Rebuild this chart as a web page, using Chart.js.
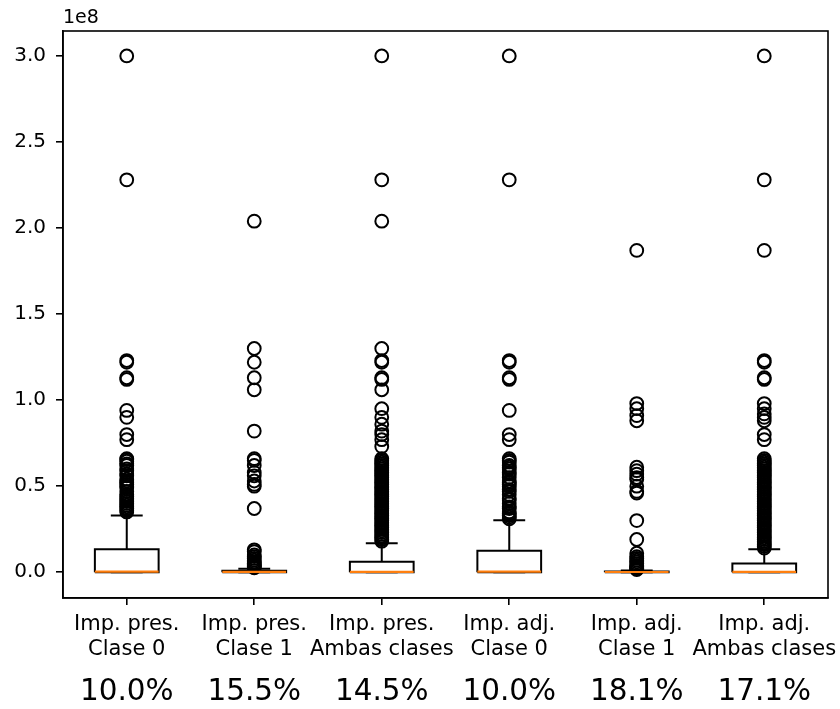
<!DOCTYPE html>
<html>
<head>
<meta charset="utf-8">
<script src="https://cdn.jsdelivr.net/npm/chart.js@4"></script>
<style>
  html, body { margin: 0; padding: 0; background: #fff; }
  #wrap { width: 840px; height: 709px; }
</style>
</head>
<body>
<div id="wrap"><canvas id="c" width="840" height="709"></canvas></div>
<script>
// ---- data (values in units of 1e8) ----
const categories = [
  ["Imp. pres.", "Clase 0"],
  ["Imp. pres.", "Clase 1"],
  ["Imp. pres.", "Ambas clases"],
  ["Imp. adj.", "Clase 0"],
  ["Imp. adj.", "Clase 1"],
  ["Imp. adj.", "Ambas clases"]
];
const percentLabels = ["10.0%", "15.5%", "14.5%", "10.0%", "18.1%", "17.1%"];
const scaleLabel = "1e8";
const yTickValues = [0, 0.5, 1.0, 1.5, 2.0, 2.5, 3.0];

const q1 = [0, 0, 0, 0, 0, 0];
const medians = [0.003, 0.002, 0.002, 0.003, 0.001, 0.002];
const q3 = [0.133, 0.008, 0.060, 0.124, 0.004, 0.050];
const whiskerLow = [0, 0, 0, 0, 0, 0];
const whiskerHigh = [0.330, 0.020, 0.168, 0.302, 0.010, 0.133];

const outliers1 = [3.0, 2.28, 1.23, 1.22, 1.13, 1.12, 0.94, 0.90, 0.80, 0.77, 0.66, 0.655, 0.645, 0.63, 0.62, 0.60, 0.59, 0.57, 0.56, 0.54, 0.53, 0.52, 0.51, 0.50, 0.49, 0.47, 0.45, 0.44, 0.43, 0.42, 0.41, 0.40, 0.39, 0.38, 0.37, 0.36, 0.35];
const outliers2 = [2.04, 1.30, 1.22, 1.13, 1.06, 0.82, 0.66, 0.65, 0.62, 0.58, 0.56, 0.53, 0.51, 0.50, 0.37, 0.13, 0.12, 0.10, 0.09, 0.08, 0.07, 0.06, 0.05, 0.045, 0.04, 0.035, 0.03, 0.025];
const outliers3 = [3.0, 2.28, 2.04, 1.30, 1.23, 1.22, 1.13, 1.12, 1.06, 0.95, 0.90, 0.86, 0.82, 0.80, 0.77, 0.73, 0.66, 0.65, 0.64, 0.63, 0.62, 0.61, 0.60, 0.59, 0.58, 0.57, 0.56, 0.55, 0.54, 0.53, 0.52, 0.51, 0.50, 0.49, 0.48, 0.47, 0.46, 0.45, 0.44, 0.43, 0.42, 0.41, 0.40, 0.39, 0.38, 0.37, 0.36, 0.35, 0.34, 0.33, 0.32, 0.31, 0.30, 0.29, 0.28, 0.27, 0.26, 0.25, 0.24, 0.23, 0.22, 0.21, 0.20, 0.19, 0.18];
const outliers4 = [3.0, 2.28, 1.23, 1.22, 1.13, 1.12, 0.94, 0.80, 0.77, 0.66, 0.65, 0.64, 0.62, 0.61, 0.60, 0.58, 0.57, 0.55, 0.53, 0.52, 0.51, 0.50, 0.48, 0.47, 0.45, 0.43, 0.42, 0.40, 0.38, 0.37, 0.35, 0.34, 0.33, 0.32, 0.31];
const outliers5 = [1.87, 0.98, 0.95, 0.91, 0.88, 0.61, 0.59, 0.57, 0.55, 0.54, 0.50, 0.47, 0.46, 0.30, 0.19, 0.11, 0.09, 0.08, 0.07, 0.06, 0.05, 0.04, 0.035, 0.03, 0.025, 0.02, 0.015];
const outliers6 = [3.0, 2.28, 1.87, 1.23, 1.22, 1.13, 1.12, 0.98, 0.95, 0.92, 0.90, 0.88, 0.80, 0.77, 0.66, 0.65, 0.64, 0.63, 0.62, 0.61, 0.60, 0.59, 0.58, 0.57, 0.56, 0.55, 0.54, 0.53, 0.52, 0.51, 0.50, 0.49, 0.48, 0.47, 0.46, 0.45, 0.44, 0.43, 0.42, 0.41, 0.40, 0.39, 0.38, 0.37, 0.36, 0.35, 0.34, 0.33, 0.32, 0.31, 0.30, 0.29, 0.28, 0.27, 0.26, 0.25, 0.24, 0.23, 0.22, 0.21, 0.20, 0.19, 0.18, 0.17, 0.16, 0.15, 0.14];
const outliers = [outliers1, outliers2, outliers3, outliers4, outliers5, outliers6];

// ---- build library datasets from the arrays ----
const BOX_HALF = 0.25, CAP_HALF = 0.125;
const gap = (x) => ({ x: x, y: null });
const boxPts = [], whiskerPts = [], medianPts = [], flierPts = [];
categories.forEach((c, i) => {
  const x = i + 1;
  boxPts.push({x: x - BOX_HALF, y: q1[i]}, {x: x + BOX_HALF, y: q1[i]},
              {x: x + BOX_HALF, y: q3[i]}, {x: x - BOX_HALF, y: q3[i]},
              {x: x - BOX_HALF, y: q1[i]}, gap(x));
  whiskerPts.push({x: x, y: q3[i]}, {x: x, y: whiskerHigh[i]}, gap(x),
                  {x: x - CAP_HALF, y: whiskerHigh[i]}, {x: x + CAP_HALF, y: whiskerHigh[i]}, gap(x),
                  {x: x, y: q1[i]}, {x: x, y: whiskerLow[i]}, gap(x),
                  {x: x - CAP_HALF, y: whiskerLow[i]}, {x: x + CAP_HALF, y: whiskerLow[i]}, gap(x));
  medianPts.push({x: x - BOX_HALF, y: medians[i]}, {x: x + BOX_HALF, y: medians[i]}, gap(x));
  outliers[i].forEach(v => flierPts.push({x: x, y: v}));
});

Chart.defaults.font.family = '"DejaVu Sans", sans-serif';
Chart.defaults.color = '#000';

const framePlugin = {
  id: 'frame',
  afterDraw(chart) {
    const {ctx, chartArea: a, scales} = chart;
    ctx.save();
    ctx.strokeStyle = '#000';
    ctx.lineWidth = 1.6;
    ctx.strokeRect(a.left, a.top, a.right - a.left, a.bottom - a.top);
    ctx.fillStyle = '#000';
    ctx.font = '29.5px "DejaVu Sans"';
    ctx.textAlign = 'center';
    ctx.textBaseline = 'middle';
    percentLabels.forEach((p, i) => ctx.fillText(p, scales.x.getPixelForValue(i + 1), a.bottom + 94));
    ctx.font = '19px "DejaVu Sans"';
    ctx.textAlign = 'left';
    ctx.textBaseline = 'alphabetic';
    ctx.fillText(scaleLabel, a.left, a.top - 8);
    ctx.restore();
  }
};

new Chart(document.getElementById('c'), {
  type: 'scatter',
  data: {
    datasets: [
      { data: medianPts, showLine: true, borderColor: '#ff7f0e', borderWidth: 2.2, pointRadius: 0 },
      { data: flierPts, showLine: false, pointStyle: 'circle', pointRadius: 6.4,
        borderColor: '#000', backgroundColor: 'rgba(0,0,0,0)', pointBorderWidth: 2 },
      { data: whiskerPts, showLine: true, borderColor: '#000', borderWidth: 2, pointRadius: 0 },
      { data: boxPts, showLine: true, borderColor: '#000', borderWidth: 2, pointRadius: 0 }
    ]
  },
  options: {
    responsive: false,
    animation: false,
    events: [],
    layout: { padding: { top: 31, right: 12, left: 0, bottom: 0 } },
    plugins: { legend: { display: false }, tooltip: { enabled: false } },
    scales: {
      x: {
        type: 'linear',
        min: 0.5, max: 6.5,
        afterBuildTicks: (s) => { s.ticks = categories.map((c, i) => ({ value: i + 1 })); },
        afterFit: (s) => { s.height = 111; s.paddingLeft = 0; s.paddingRight = 0; },
        ticks: {
          callback: (v) => categories[Math.round(v) - 1],
          autoSkip: false, maxRotation: 0, padding: 7,
          font: { size: 21, lineHeight: 1.2 }, color: '#000'
        },
        grid: { drawOnChartArea: false, drawTicks: true, tickLength: 7, color: '#000', lineWidth: 1.6 },
        border: { display: true, color: '#000', width: 1.6 }
      },
      y: {
        type: 'linear',
        min: -0.15, max: 3.145,
        afterBuildTicks: (s) => { s.ticks = yTickValues.map(v => ({ value: v })); },
        afterFit: (s) => { s.width = 63; s.paddingTop = 0; s.paddingBottom = 0; },
        ticks: {
          callback: (v) => Number(v).toFixed(1),
          padding: 10, font: { size: 20 }, color: '#000'
        },
        grid: { drawOnChartArea: false, drawTicks: true, tickLength: 7, color: '#000', lineWidth: 1.6 },
        border: { display: true, color: '#000', width: 1.6 }
      }
    }
  },
  plugins: [framePlugin]
});
</script>
</body>
</html>
